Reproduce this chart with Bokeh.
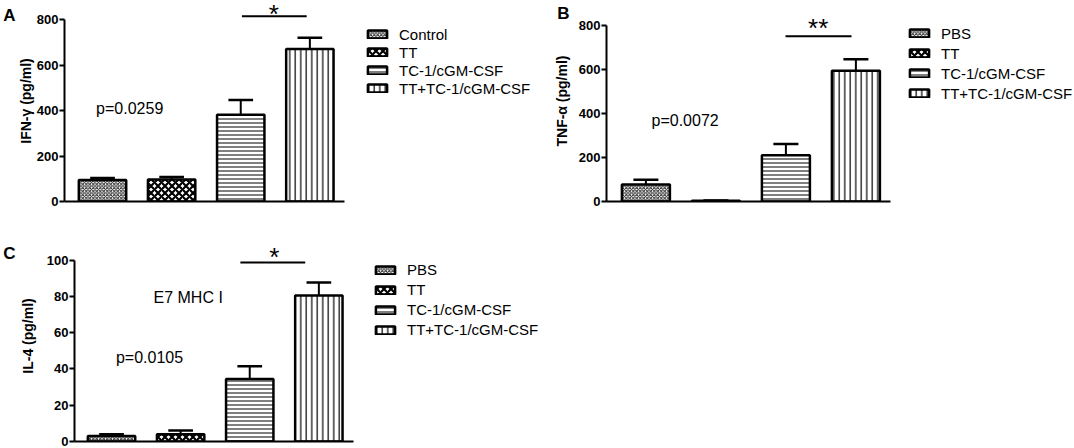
from bokeh.plotting import figure
from bokeh.layouts import column, row
from bokeh.models import Range1d, FixedTicker, Label, Legend, LegendItem, LinearAxis
from bokeh.embed import file_html
from bokeh.resources import INLINE

# ---------------- data ----------------
groups_a = ["Control", "TT", "TC-1/cGM-CSF", "TT+TC-1/cGM-CSF"]
groups_bc = ["PBS", "TT", "TC-1/cGM-CSF", "TT+TC-1/cGM-CSF"]
xpos = [1, 2, 3, 4]

ifn_mean = [95, 97, 382, 671]
ifn_sem = [9, 11, 65, 50]
tnf_mean = [77, 3, 210, 593]
tnf_sem = [22, 1, 51, 52]
il4_mean = [3, 4, 34.5, 80.5]
il4_sem = [1, 2, 7, 7.2]

ticks_ab = [0, 200, 400, 600, 800]
ticks_c = [0, 20, 40, 60, 80, 100]

FONT = "Liberation Sans"
PITCH = 70.0           # px between bar centres
BAR_W = 48 / PITCH
CAP_W = 25 / PITCH

styles = [
    dict(hatch_pattern="diagonal_cross", hatch_scale=3.5, hatch_weight=1, hatch_color="#222222"),
    dict(hatch_pattern="diagonal_cross", hatch_scale=7, hatch_weight=2.2, hatch_color="#000000"),
    dict(hatch_pattern="horizontal_line", hatch_scale=4, hatch_weight=1, hatch_color="#000000"),
    dict(hatch_pattern="vertical_line", hatch_scale=5.5, hatch_weight=1.2, hatch_color="#000000"),
]


def panel(g, groups, means, sems, ticks, ylabel, letter, pval, star, bracket, legend_geo, extra=None):
    left, top, width, height = g["left"], g["top"], g["width"], g["height"]
    axis_px, bar1_px, y0_px, ppu = g["axis"], g["bar1"], g["y0"], g["ppu"]
    xs = 1 + (axis_px - bar1_px) / PITCH
    xe = xs + (left + width - axis_px) / PITCH
    ye = (y0_px - top) / ppu

    def dx(px):
        return 1 + (px - bar1_px) / PITCH

    def dy(py):
        return (y0_px - py) / ppu

    p = figure(width=width, height=height, output_backend="svg", toolbar_location=None,
               x_range=Range1d(xs, xe), y_range=Range1d(0, ye),
               min_border_left=axis_px - left, min_border_right=0,
               min_border_top=0, min_border_bottom=int(round(top + height - y0_px)))
    p.outline_line_color = None
    p.grid.visible = False
    p.background_fill_color = "white"
    p.border_fill_color = "white"

    # y axis
    yax = p.yaxis[0]
    yax.ticker = FixedTicker(ticks=ticks)
    yax.bounds = (ticks[0], ticks[-1])
    yax.axis_line_width = 2
    yax.major_tick_line_width = 2
    yax.major_tick_out = 5
    yax.major_tick_in = 0
    yax.minor_tick_out = 0
    yax.minor_tick_in = 0
    yax.major_label_standoff = 1
    yax.major_label_text_font = FONT
    yax.major_label_text_font_style = "bold"
    yax.major_label_text_font_size = "13px"
    yax.major_label_text_color = "black"
    yax.axis_label = ylabel
    yax.axis_label_text_font = FONT
    yax.axis_label_text_font_style = "bold"
    yax.axis_label_text_font_size = "14px"
    yax.axis_label_text_color = "black"
    yax.axis_label_standoff = g["lab_standoff"]

    # panel letter, carried by an extra (line-less) axis on the left
    lt, lty, lstand = letter
    lv = dy(lty)
    lax = LinearAxis(ticker=FixedTicker(ticks=[lv]), major_label_overrides={lv: lt},
                     axis_line_color=None, major_tick_line_color=None, minor_tick_line_color=None,
                     major_tick_out=0, major_tick_in=0, minor_tick_out=0, minor_tick_in=0,
                     major_label_standoff=lstand, major_label_text_font=FONT,
                     major_label_text_font_style="bold", major_label_text_font_size="17px",
                     major_label_text_color="black")
    p.add_layout(lax, "left")

    # x axis
    xax = p.xaxis[0]
    xax.ticker = FixedTicker(ticks=[])
    xax.bounds = (xs, 4 + BAR_W / 2 + 11 / PITCH)
    xax.axis_line_width = 2
    xax.major_tick_out = 0
    xax.minor_tick_out = 0
    xax.major_label_text_font_size = "0px"

    # error bars
    tops = [m + s for m, s in zip(means, sems)]
    p.segment(x0=xpos, y0=means, x1=xpos, y1=tops, line_color="black", line_width=2)
    p.segment(x0=[x - CAP_W / 2 for x in xpos], y0=tops, x1=[x + CAP_W / 2 for x in xpos], y1=tops,
              line_color="black", line_width=2.5)

    # bars
    items = []
    for i in range(4):
        r = p.vbar(x=[xpos[i]], top=[means[i]], width=BAR_W, bottom=0,
                   fill_color="white", line_color="black", line_width=2.5, **styles[i])
        items.append(LegendItem(label=groups[i], renderers=[r]))

    lg_left, lg_first, lg_pitch = legend_geo
    lg_bottom = lg_first + 3 * lg_pitch + lg_pitch / 2
    leg = Legend(items=items, location=(lg_left - axis_px, y0_px - lg_bottom),
                 glyph_width=24, glyph_height=10, label_standoff=10,
                 label_text_font=FONT, label_text_font_size="15px", label_text_color="black",
                 label_height=int(round(lg_pitch)),
                 spacing=0, padding=0, margin=0, border_line_alpha=0, background_fill_alpha=0)
    p.add_layout(leg)

    # significance bracket
    bx0, bx1, by = bracket
    p.segment(x0=[dx(bx0)], y0=[dy(by)], x1=[dx(bx1)], y1=[dy(by)], line_color="black", line_width=2)
    stext, sx, sy = star
    p.add_layout(Label(x=dx(sx), y=dy(sy + 4), text=stext, text_font=FONT, text_font_size="26px",
                       text_align="center", text_baseline="alphabetic", text_color="black"))

    # p value
    pt, ptx, pty = pval
    p.add_layout(Label(x=dx(ptx), y=dy(pty), text=pt, text_font=FONT, text_font_size="16px",
                       text_align="left", text_baseline="middle", text_color="black"))
    if extra:
        et, etx, ety = extra
        p.add_layout(Label(x=dx(etx), y=dy(ety), text=et, text_font=FONT, text_font_size="16px",
                           text_align="left", text_baseline="middle", text_color="black"))
    return p


geo_a = dict(left=0, top=0, width=533, height=230, axis=58, bar1=96.5, y0=201, ppu=0.2271, lab_standoff=0)
geo_b = dict(left=533, top=0, width=541, height=230, axis=606, bar1=645.4, y0=207, ppu=0.2271, lab_standoff=6)
geo_c = dict(left=0, top=230, width=540, height=218, axis=68, bar1=105.5, y0=441, ppu=1.8135, lab_standoff=8)

pa = panel(geo_a, groups_a, ifn_mean, ifn_sem, ticks_ab, "IFN-γ (pg/ml)", ("A", 15, -1),
           ("p=0.0259", 90, 108), ("*", 270, 9.5), (237.7, 303.3, 15.7), (359, 34, 18))
pb = panel(geo_b, groups_bc, tnf_mean, tnf_sem, ticks_ab, "TNF-α (pg/ml)", ("B", 13, -19),
           ("p=0.0072", 651, 123.3), ("**", 817.7, 24.5), (785, 851, 36.7), (907, 40, 19.8))
pc = panel(geo_c, groups_bc, il4_mean, il4_sem, ticks_c, "IL-4 (pg/ml)", ("C", 253, 1),
           ("p=0.0105", 110, 356.7), ("*", 270.3, 252), (236, 301.7, 262), (367, 271.7, 19.5),
           extra=("E7 MHC I", 148, 296.7))

layout = column(row(pa, pb, spacing=0), pc, spacing=0)
open("out.html", "w").write(file_html(layout, INLINE))
